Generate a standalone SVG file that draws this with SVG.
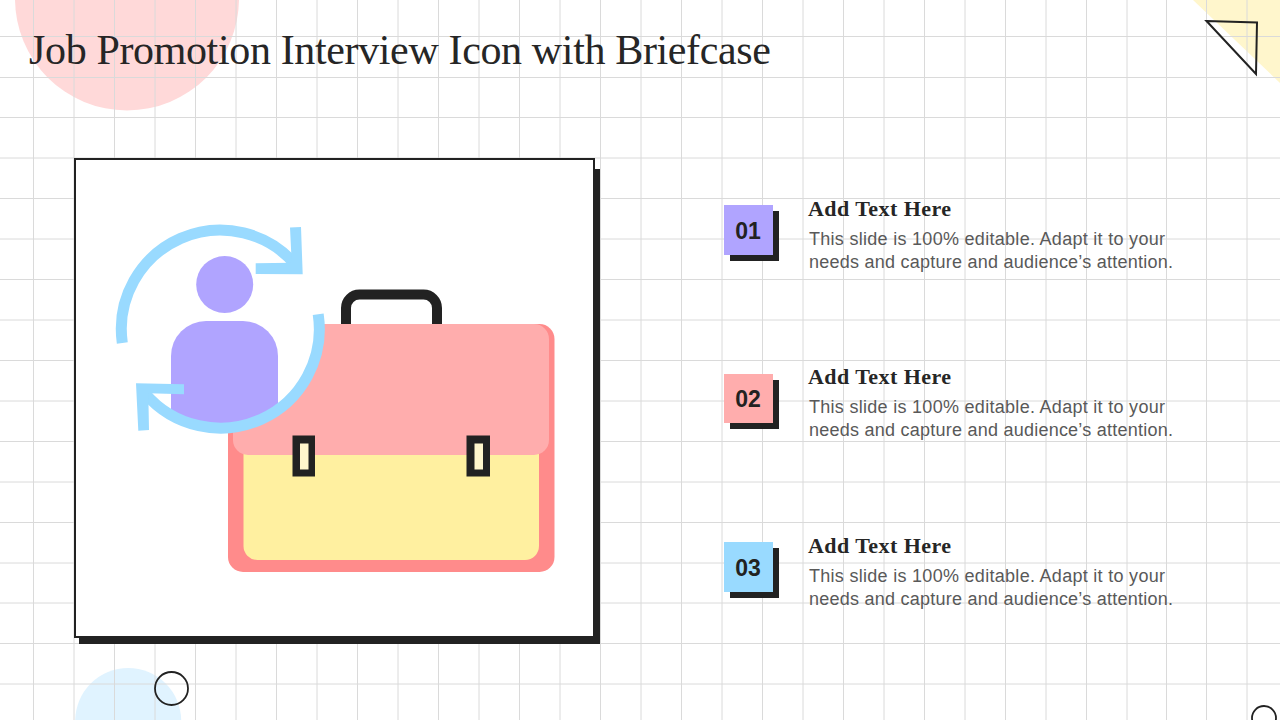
<svg xmlns="http://www.w3.org/2000/svg" width="1280" height="720" viewBox="0 0 1280 720">
<style>
.g{stroke:#dadada;stroke-width:1;fill:none}
.ink{fill:#222222}
.title{font-family:"Liberation Serif",serif;font-size:42px;fill:#262626}
.h{font-family:"Liberation Serif",serif;font-size:22px;font-weight:bold;fill:#262626}
.b{font-family:"Liberation Sans",Arial,sans-serif;font-size:18px;fill:#595959}
.n{font-family:"Liberation Sans",Arial,sans-serif;font-size:23px;font-weight:bold;fill:#222222;text-anchor:middle}
.arc{fill:none;stroke:#99DAFF;stroke-width:11}
</style>
<defs>
<clipPath id="inner"><circle cx="220.3" cy="329" r="99"/></clipPath>
</defs>
<rect width="1280" height="720" fill="#ffffff"/>
<g id="background">
<circle cx="127" cy="-1.500" r="112" fill="#FFD9D9"/>
<polygon points="1193,0 1280,0 1280,83" fill="#FFF6CC"/>
<circle cx="128.200" cy="721" r="53" fill="#E0F3FF"/>
<path class="g" d="M33.5 0V720M74 0V720M114.500 0V720M155 0V720M195.500 0V720M236 0V720M276.500 0V720M317 0V720M357.500 0V720M398 0V720M438.500 0V720M479 0V720M519.500 0V720M560 0V720M600.500 0V720M641 0V720M681.500 0V720M722 0V720M762.500 0V720M803 0V720M843.500 0V720M884 0V720M924.500 0V720M965 0V720M1005.500 0V720M1046 0V720M1086.500 0V720M1127 0V720M1166.500 0V720M1206.500 0V720M1247 0V720"/>
<path class="g" d="M0 36.500H1280M0 77.500H1280M0 117.500H1280M0 158H1280M0 198.500H1280M0 239H1280M0 279.500H1280M0 320H1280M0 360.500H1280M0 401H1280M0 441.500H1280M0 482H1280M0 522.500H1280M0 563H1280M0 603H1280M0 643.500H1280M0 684H1280"/>
<polygon points="1206.500,21 1257,22.500 1256,74" fill="none" stroke="#222222" stroke-width="2"/>
<circle cx="171.500" cy="688.500" r="16.500" fill="none" stroke="#222222" stroke-width="1.800"/>
<circle cx="1264" cy="718" r="12" fill="none" stroke="#222222" stroke-width="1.800"/>
</g>
<text id="title" class="title" x="29" y="63.500" textLength="742" lengthAdjust="spacing">Job Promotion Interview Icon with Briefcase</text>
<g id="frame">
<polygon class="ink" points="79,637 594,637 594,169 600,169 600,644 79,644"/>
<rect x="75" y="159" width="519" height="478" fill="#ffffff" stroke="#222222" stroke-width="2"/>
</g>
<g id="briefcase">
<path d="M346 326V308A13.500 13.500 0 0 1 359.500 294.500H423.500A13.500 13.500 0 0 1 437 308V326" fill="none" stroke="#222222" stroke-width="10"/>
<rect x="228" y="324" width="326.500" height="248" rx="15" fill="#FF8B8B"/>
<rect x="243.500" y="440" width="295.500" height="120" rx="14" fill="#FFF0A0"/>
<rect x="233" y="324" width="316" height="131" rx="15" fill="#FFADAD"/>
<rect x="292.500" y="435.500" width="22.500" height="41" class="ink"/>
<rect x="300" y="443.500" width="8.500" height="26" fill="#FFF6CC"/>
<rect x="466.500" y="435.500" width="23.500" height="41" class="ink"/>
<rect x="474.500" y="443.500" width="8.500" height="26" fill="#FFF6CC"/>
</g>
<g id="person">
<circle cx="220.300" cy="329" r="99" fill="#ffffff"/>
<circle cx="224.700" cy="284.500" r="28.500" fill="#B0A4FF"/>
<g clip-path="url(#inner)"><path d="M171 440V356A35 35 0 0 1 206 321H243A35 35 0 0 1 278 356V440Z" fill="#B0A4FF"/></g>
</g>
<g id="connectors">
<path class="arc" d="M122.300 342.900A99 99 0 0 1 297.100 266.600"/>
<polygon fill="#99DAFF" points="290,227.500 301,227 302.700,274.300 255.700,274 255.700,263.300 291.700,262.700"/>
<path class="arc" d="M318.200 314.300A99 99 0 0 1 144.900 393.200"/>
<polygon fill="#99DAFF" points="136,383.300 184,384.300 184,394.300 148.300,393.300 149,430 138.300,430.700"/>
</g>
<g id="item1">
<rect x="730" y="211" width="49" height="50" class="ink"/>
<rect x="724" y="205" width="49" height="50" fill="#B0A4FF"/>
<text class="n" x="748" y="239">01</text>
<text class="h" x="808" y="216" textLength="143">Add Text Here</text>
<text class="b" x="809" y="245" textLength="356">This slide is 100% editable. Adapt it to your</text>
<text class="b" x="809" y="268" textLength="364">needs and capture and audience’s attention.</text>
</g>
<g id="item2">
<rect x="730" y="380" width="49" height="49" class="ink"/>
<rect x="724" y="374" width="49" height="49" fill="#FFADAD"/>
<text class="n" x="748" y="407">02</text>
<text class="h" x="808" y="384" textLength="143">Add Text Here</text>
<text class="b" x="809" y="413" textLength="356">This slide is 100% editable. Adapt it to your</text>
<text class="b" x="809" y="436" textLength="364">needs and capture and audience’s attention.</text>
</g>
<g id="item3">
<rect x="730" y="548" width="49" height="50" class="ink"/>
<rect x="724" y="542" width="49" height="50" fill="#99DAFF"/>
<text class="n" x="748" y="576">03</text>
<text class="h" x="808" y="553" textLength="143">Add Text Here</text>
<text class="b" x="809" y="582" textLength="356">This slide is 100% editable. Adapt it to your</text>
<text class="b" x="809" y="605" textLength="364">needs and capture and audience’s attention.</text>
</g>
</svg>
